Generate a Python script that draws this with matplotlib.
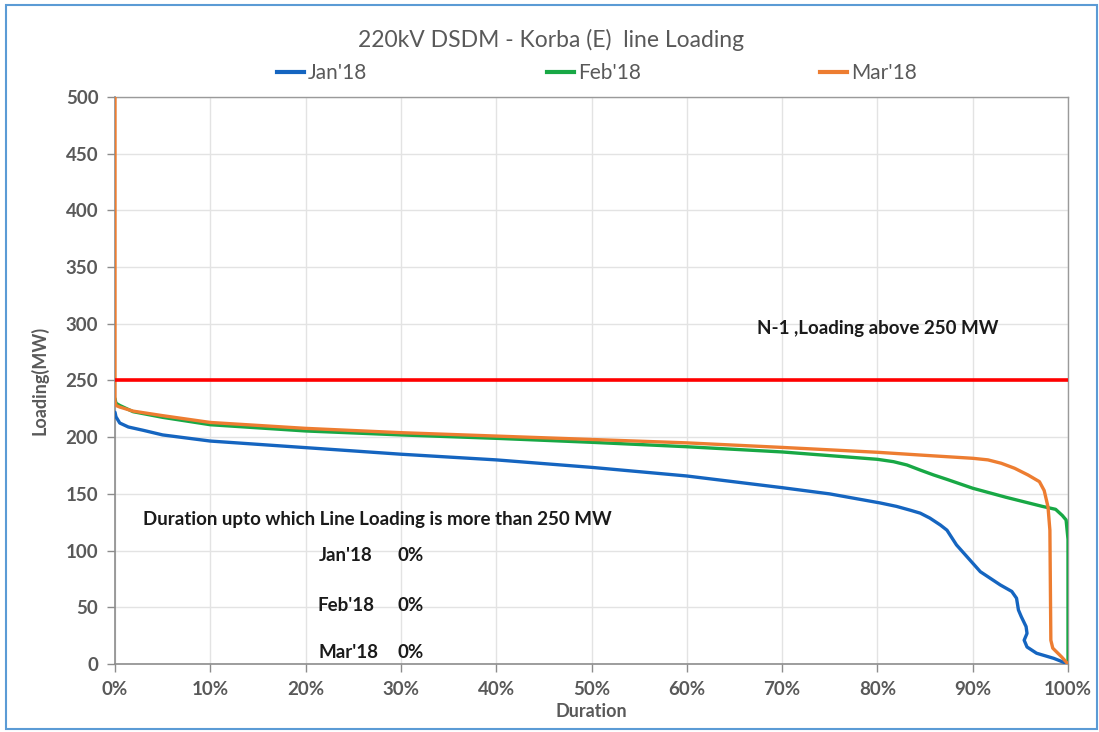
import matplotlib
matplotlib.use("Agg")
import matplotlib.pyplot as plt
from matplotlib.ticker import MultipleLocator, FuncFormatter
from matplotlib.patches import Rectangle
from matplotlib.lines import Line2D

plt.rcParams['font.family'] = ['Lato', 'DejaVu Sans']

# Duration (%) and loading (MW)
jan_x = [0, 0.1, 0.5, 1.4, 3, 5, 10, 20, 30, 40, 50, 60, 70, 75, 80.3, 82, 83.5, 84.5,
         85.5, 86.6, 87.3, 88.3, 89.4, 90.8, 92.9, 94.1, 94.6, 94.8, 95.1, 95.6, 95.7,
         95.4, 95.7, 96.7, 98.5, 100]
jan_y = [222, 218, 212.5, 209, 206, 202, 196.6, 190.8, 185, 180, 173.4, 165.8, 155.5, 150,
         142, 139, 135.5, 133, 128.7, 122.6, 118, 105, 94.6, 81.4, 69.7, 64, 58, 47.6,
         41.7, 33, 27, 21, 15, 9.5, 5, 0]

feb_x = [0, 0.1, 0.5, 1.9, 5, 10, 20, 30, 40, 50, 60, 70, 80, 81.7, 83.1, 84.5, 85.9,
         87.3, 90, 93.5, 97.3, 98.7, 99.4, 99.8, 100, 100]
feb_y = [234, 230, 228, 222.5, 217.5, 211, 205.5, 202, 199, 195.5, 191.6, 187, 180.5, 178.4,
         175.5, 171, 166.7, 162.8, 155, 147, 139, 136.4, 131, 127, 110, 0]

mar_x = [0, 0, 0.1, 0.5, 1.9, 5, 10, 20, 30, 40, 50, 60, 70, 80, 85, 90, 91.6, 93, 94.4,
         95.8, 97, 97.5, 97.9, 98.1, 98.2, 98.4, 99.3, 100]
mar_y = [500, 232, 228, 226.6, 223, 219, 213, 207.8, 204, 201, 198, 195, 191, 186.7, 184,
         181.4, 180, 177, 172.6, 166.7, 160.8, 153, 138.7, 118, 21, 14, 6.5, 0]

limit_mw = 250
summary_months = ["Jan'18", "Feb'18", "Mar'18"]
summary_values = ["0%", "0%", "0%"]

C_JAN = '#1565c0'
C_FEB = '#18a845'
C_MAR = '#ed7d31'
GREY = '#595959'

fig = plt.figure(figsize=(10.99, 7.32), dpi=100)
ax = fig.add_axes([115/1099, 1-664/732, (1068-115)/1099, (664-97)/732])

for xs, ys, c in [(jan_x, jan_y, C_JAN), (feb_x, feb_y, C_FEB), (mar_x, mar_y, C_MAR)]:
    ax.plot(xs, ys, color=c, lw=2.4, solid_joinstyle='round', solid_capstyle='round', zorder=3)
ax.axhline(limit_mw, color='#ff0000', lw=2.6, zorder=4)

ax.set_xlim(0, 100)
ax.set_ylim(0, 500)
ax.xaxis.set_major_locator(MultipleLocator(10))
ax.yaxis.set_major_locator(MultipleLocator(50))
ax.xaxis.set_major_formatter(FuncFormatter(lambda v, p: f"{int(round(v))}%"))
ax.grid(True, color='#e3e3e3', lw=1.0, zorder=0)
ax.set_axisbelow(True)
for s in ['left', 'bottom']:
    ax.spines[s].set_color('#8c8c8c')
    ax.spines[s].set_linewidth(1.2)
for s in ['top', 'right']:
    ax.spines[s].set_color('#9a9a9a')
    ax.spines[s].set_linewidth(1.0)
ax.tick_params(axis='both', direction='out', length=6, width=1.0, color='#8c8c8c',
               labelcolor=GREY, labelsize=13.5, pad=6)
for lab in ax.get_xticklabels() + ax.get_yticklabels():
    lab.set_fontweight('bold')

ax.set_xlabel('Duration', fontsize=13, fontweight='bold', color=GREY, labelpad=4)
ax.set_ylabel('Loading(MW)', fontsize=13, fontweight='bold', color=GREY)
ax.yaxis.set_label_coords(-0.070, 0.5)

fig.text(551/1099, 1-40/732, "220kV DSDM - Korba (E)  line Loading", ha='center', va='center',
         fontsize=16.5, color=GREY)

handles = [Line2D([], [], color=C_JAN, lw=3), Line2D([], [], color=C_FEB, lw=3),
           Line2D([], [], color=C_MAR, lw=3)]
fig.legend(handles, summary_months, loc='center', bbox_to_anchor=(597/1099, 1-73/732),
           ncol=3, frameon=False, fontsize=15, handlelength=1.3, handletextpad=0.2,
           columnspacing=8.6, labelcolor=GREY)

ax.text(80, 296, "N-1 ,Loading above 250 MW", ha='center', va='center', fontsize=13.5,
        fontweight='bold', color='#1a1a1a')
ax.text(2.9, 127, "Duration upto which Line Loading is more than 250 MW", ha='left',
        va='center', fontsize=13.5, fontweight='bold', color='#1a1a1a')
for m, v, yy, xm in zip(summary_months, summary_values, [96, 52, 10], [21.4, 21.2, 21.4]):
    ax.text(xm, yy, m, ha='left', va='center', fontsize=13.5, fontweight='bold', color='#1a1a1a')
    ax.text(29.6, yy, v, ha='left', va='center', fontsize=13.5, fontweight='bold', color='#1a1a1a')

fig.patches.append(Rectangle((6/1099, 1-729/732), 1091/1099, 724/732, transform=fig.transFigure,
                             fill=False, edgecolor='#5b9bd5', lw=1.5))

fig.savefig('out.png', dpi=100)
